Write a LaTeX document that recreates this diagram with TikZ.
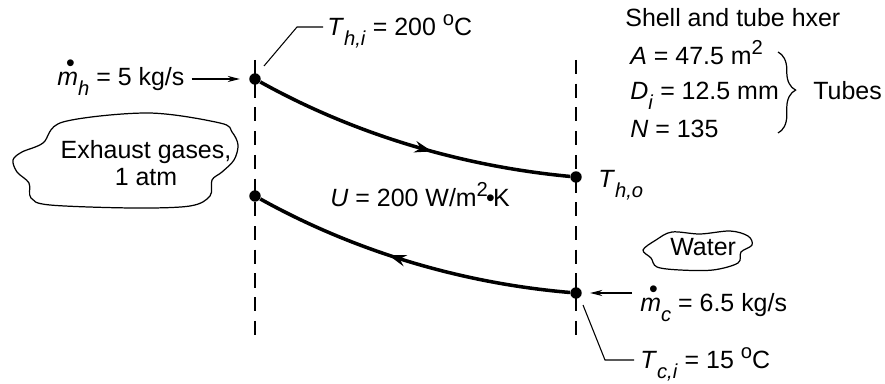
\documentclass[tikz,border=0pt]{standalone}
\usepackage{fontspec}
\setmainfont{Liberation Sans}
\usetikzlibrary{arrows.meta,calc,decorations.markings,decorations.pathreplacing}

\newcommand\lowsub[1]{\raisebox{-0.38em}{\fontsize{11.5}{11.5}\selectfont\textit{#1}}}
\newcommand\upsup[1]{\raisebox{0.42em}{\fontsize{11.5}{11.5}\selectfont #1}}
\newcommand\mflow{\rlap{\hspace{0.53em}\makebox[0pt]{\raisebox{0.6em}{\textbullet}}}\textit{m}}

\begin{document}
\begin{tikzpicture}[x=0.02cm,y=-0.02cm,>=Stealth,font=\fontsize{14.2}{15.5}\selectfont]
  \tikzset{joint/.style={circle,fill,inner sep=0pt,minimum size=6.5pt},
    txt/.style={inner sep=0pt,anchor=base west},
    wall/.style={dash pattern=on 8pt off 5.5pt,line width=1.1pt},
    stream/.style={line width=2pt,postaction={decorate},
      decoration={markings,mark=at position 0.57 with {\arrow{Stealth[length=10pt,width=6.5pt]}}}},
    leader/.style={line width=0.6pt},
    feed/.style={line width=0.7pt,-{Stealth[length=7pt,width=3.5pt]}},
    blob/.style={line width=0.7pt}}
  \useasboundingbox (0,0) rectangle (885,384);
  % shell walls
  \coordinate (lt) at (255,60);
  \coordinate (lb) at (255,335);
  \coordinate (rt) at (576,60);
  \coordinate (rb) at (576,342);
  \draw[wall] (lt) -- (lb);
  \draw[wall] (rt) -- (rb);
  % inlet and outlet points
  \node[joint] (hi) at (255,79) {};
  \node[joint] (ho) at (576,177) {};
  \node[joint] (ci) at (576,293) {};
  \node[joint] (co) at (255,196) {};
  \draw[stream] (hi) .. controls (352,133) and (459,166) .. (ho);
  \draw[stream] (ci) .. controls (459,283) and (352,250) .. (co);
  % labels
  \node[txt] (thi) at (327,36) {\textit{T}\lowsub{h,i} = 200 \upsup{o}C};
  \node[txt] (mh) at (57,86) {\mflow\lowsub{h} = 5 kg/s};
  \node[txt] (u) at (330,207) {\textit{U} = 200 W/m\upsup{2}\kern-1pt\textbullet\kern-1pt K};
  \node[txt] (tho) at (598,188) {\textit{T}\lowsub{h,o}};
  \node[txt] (shell) at (625,27) {Shell and tube hxer};
  \node[txt] (area) at (630,65) {\textit{A} = 47.5 m\upsup{2}};
  \node[txt] (di) at (630,100) {\textit{D}\lowsub{i} = 12.5 mm};
  \node[txt] (ntube) at (630,138) {\textit{N} = 135};
  \node[txt] (tubes) at (813,100) {Tubes};
  \node[txt] (water) at (670,256) {Water};
  \node[txt] (mc) at (640,312) {\mflow\lowsub{c} = 6.5 kg/s};
  \node[txt] (tci) at (640,369) {\textit{T}\lowsub{c,i} = 15 \upsup{o}C};
  \node[align=center,inner sep=0pt] (gas) at (146,163) {Exhaust gases,\\1 atm};
  % leaders and feeds
  \draw[leader] ($(hi)+(9,-13)$) -- ($(thi.base west)+(-30,-9)$) -- ($(thi.base west)+(-4,-9)$);
  \draw[leader] ($(ci)+(7,12)$) -- ($(tci.base west)+(-35,-9)$) -- ($(tci.base west)+(-6,-9)$);
  \draw[feed] ($(mh.base east)+(7,-7)$) -- ($(hi.west)+(-9,0)$);
  \draw[feed] ($(mc.base west)+(-8,-19)$) -- ($(ci.east)+(8,0)$);
  % tube brace
  \coordinate (bt) at (778,52);
  \coordinate (bb) at (778,133);
  \draw[line width=0.7pt,decorate,decoration={brace,amplitude=10pt,aspect=0.47}] (bt) -- (bb);
  % clouds
  \draw[blob] plot[smooth cycle,tension=0.55] coordinates {(148,113) (220,123) (232,132) (238,145)
    (234,160) (222,172) (212,180) (210,196) (190,206) (133,208) (50,205) (31,198) (29,183)
    (17,172) (13,160) (22,152) (43,143) (63,122)};
  \draw[blob] plot[smooth cycle,tension=0.55] coordinates {(643,250) (656,240) (672,232) (700,234)
    (730,231) (748,236) (752,245) (741,252) (738,263) (713,270) (680,270) (657,267) (651,258)};
\end{tikzpicture}
\end{document}
